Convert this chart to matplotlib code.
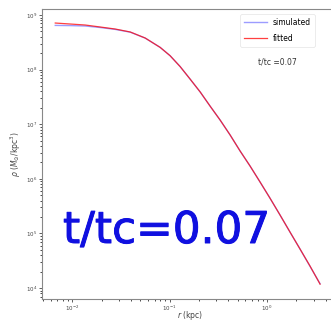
import matplotlib
matplotlib.use("Agg")
import matplotlib.pyplot as plt
import matplotlib.patheffects as pe
from matplotlib.ticker import LogLocator, NullFormatter

# radius (kpc)
r = [0.0067, 0.00953, 0.0136, 0.0194, 0.0276, 0.0394, 0.0561, 0.0800, 0.101,
     0.128, 0.162, 0.206, 0.260, 0.330, 0.418, 0.529, 0.670, 0.848, 1.07,
     1.36, 1.72, 2.18, 2.76, 3.50]
# density (Msun/kpc^3)
rho_sim = [6.45e8, 6.40e8, 6.29e8, 5.90e8, 5.45e8, 4.85e8, 3.78e8, 2.55e8, 1.80e8,
           1.14e8, 6.73e7, 3.89e7, 2.15e7, 1.19e7, 6.34e6, 3.23e6, 1.71e6, 8.73e5,
           4.45e5, 2.17e5, 1.06e5, 5.18e4, 2.50e4, 1.20e4]
rho_fit = [7.13e8, 6.84e8, 6.56e8, 6.03e8, 5.54e8, 4.89e8, 3.79e8, 2.55e8, 1.80e8,
           1.14e8, 6.73e7, 3.89e7, 2.15e7, 1.19e7, 6.34e6, 3.23e6, 1.71e6, 8.73e5,
           4.45e5, 2.17e5, 1.06e5, 5.18e4, 2.53e4, 1.18e4]
labels = ["simulated", "fitted"]
stamp = "t/tc =0.07"
big_stamp = "t/tc=0.07"

W, H = 331, 325
fig = plt.figure(figsize=(W / 100, H / 100), dpi=100)
ax = fig.add_axes([42 / W, 26 / H, (338 - 42) / W, (299 - 9) / H])

ax.plot(r, rho_sim, color="#5a5aff", alpha=0.6, lw=1.0, label=labels[0])
ax.plot(r, rho_fit, color="red", alpha=0.75, lw=0.9, label=labels[1])

ax.set_xscale("log")
ax.set_yscale("log")
ax.set_xlim(10 ** -2.31, 10 ** 0.728)
ax.set_ylim(10 ** 3.8, 10 ** 9.11)
ax.set_yticks([1e4, 1e5, 1e6, 1e7, 1e8, 1e9])
ax.yaxis.set_minor_locator(LogLocator(base=10, subs=range(2, 10), numticks=20))
ax.yaxis.set_minor_formatter(NullFormatter())
ax.xaxis.set_minor_locator(LogLocator(base=10, subs=range(2, 10), numticks=20))
ax.xaxis.set_minor_formatter(NullFormatter())
ax.tick_params(labelsize=4, length=2.5, width=0.6, colors="#444444", pad=1.0)
ax.tick_params(which="minor", length=1.5, width=0.5)
for s in ax.spines.values():
    s.set_color("#888888")
    s.set_linewidth(0.8)

ax.set_xlabel(r"$r$ (kpc)", fontsize=5.5, color="#444444")
ax.xaxis.set_label_coords(0.5, -0.036)
ax.set_ylabel(r"$\rho$ ($M_{\odot}$/kpc$^3$)", fontsize=5.5, color="#444444", labelpad=2)

leg = ax.legend(loc="upper right", bbox_to_anchor=(0.935, 0.995), fontsize=5.5,
                handlelength=3, frameon=True, borderpad=0.5, labelspacing=0.9)
leg.get_frame().set_linewidth(0.5)
leg.get_frame().set_edgecolor("#dddddd")

ax.text(277 / W, 1 - 62 / H, stamp, transform=fig.transFigure, fontsize=5.5,
        ha="center", va="center", color="#333333")
fig.text(63 / W, 1 - 243 / H, big_stamp, fontsize=31.5, color="#1010e0",
         ha="left", va="baseline", family="DejaVu Sans",
         path_effects=[pe.withStroke(linewidth=0.7, foreground="#1010e0")])

fig.savefig("out.png", dpi=100)
